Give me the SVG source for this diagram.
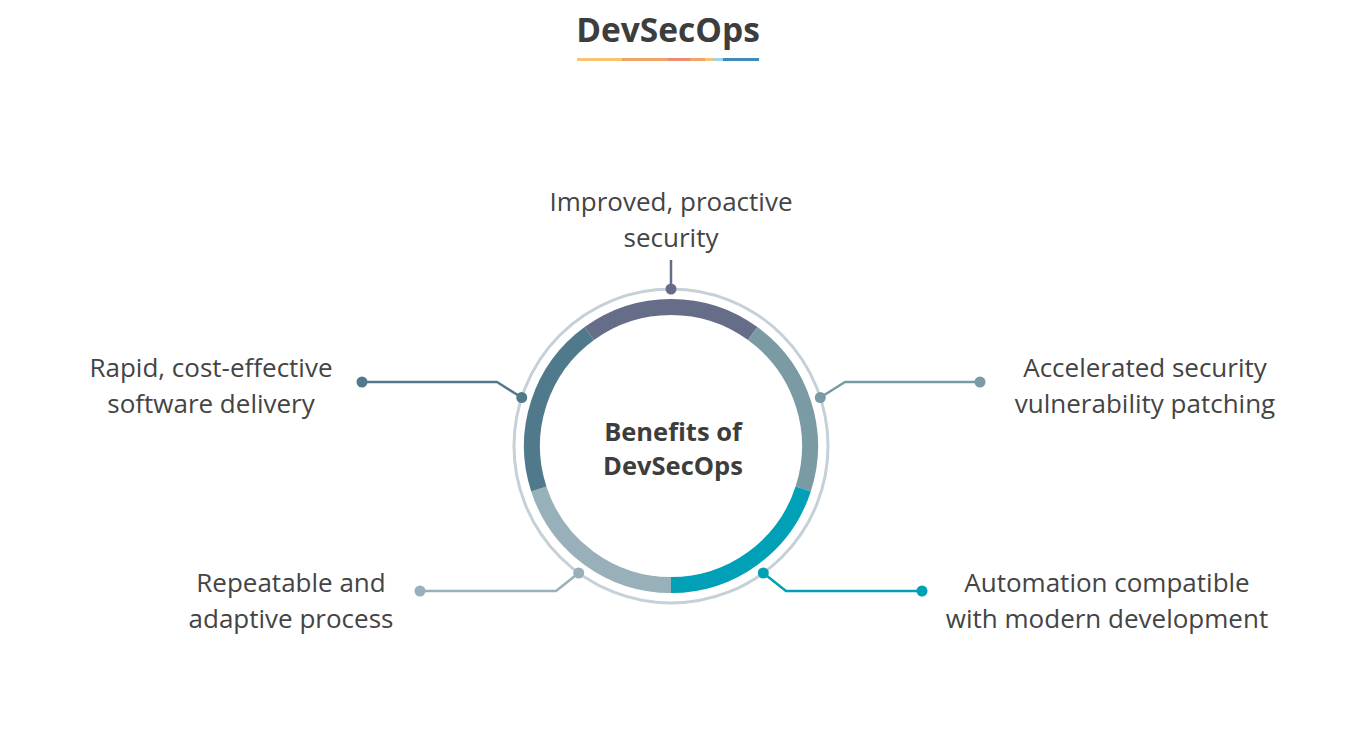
<svg xmlns="http://www.w3.org/2000/svg" width="1356" height="748" viewBox="0 0 1356 748">
<style>
text{font-family:"Open Sans","Noto Sans","Liberation Sans",sans-serif;fill:#444;}
.lbl{font-size:26px;text-anchor:middle;}
.ttl{font-size:33.5px;font-weight:bold;text-anchor:middle;fill:#3d3d3d;}
.ctr{font-size:25.5px;font-weight:bold;text-anchor:middle;fill:#3d3d3d;}
.seg{fill:none;stroke-width:16;}
.ln{fill:none;stroke-width:2.5;stroke-linejoin:round;}
</style>
<rect width="1356" height="748" fill="#fff"/>
<g id="title">
<text class="ttl" x="668" y="42">DevSecOps</text>
<rect x="577" y="58" width="45" height="3" fill="#f6c473"/>
<rect x="622" y="58" width="46" height="3" fill="#f0a466"/>
<rect x="668" y="58" width="22" height="3" fill="#ec8d75"/>
<rect x="690" y="58" width="15" height="3" fill="#f0a466"/>
<rect x="705" y="58" width="8" height="3" fill="#f6c473"/>
<rect x="713" y="58" width="10" height="3" fill="#9fd3e6"/>
<rect x="723" y="58" width="36" height="3" fill="#3f8bb9"/>
</g>
<g id="hub">
<circle cx="671" cy="446" r="157" fill="none" stroke="#c5d1d7" stroke-width="3"/>
<path class="seg" stroke="#666d88" d="M589.3 333.55 A139 139 0 0 1 752.7 333.55"/>
<path class="seg" stroke="#7a9ba4" d="M752.7 333.55 A139 139 0 0 1 803.2 488.95"/>
<path class="seg" stroke="#00a0b7" d="M803.2 488.95 A139 139 0 0 1 671 585"/>
<path class="seg" stroke="#98b0ba" d="M671 585 A139 139 0 0 1 538.8 488.95"/>
<path class="seg" stroke="#507a8b" d="M538.8 488.95 A139 139 0 0 1 589.3 333.55"/>
<text class="ctr" x="673" y="441">Benefits of</text>
<text class="ctr" x="673" y="475">DevSecOps</text>
</g>
<g id="connectors">
<path class="ln" stroke="#666d88" d="M671 289 V260"/>
<path class="ln" stroke="#507a8b" d="M521.7 397.5 L497 382 H362"/>
<path class="ln" stroke="#7a9ba4" d="M820.3 397.5 L845 382 H980"/>
<path class="ln" stroke="#98b0ba" d="M578.7 573 L556 591 H420"/>
<path class="ln" stroke="#00a0b7" d="M763.3 573 L786 591 H922"/>
<circle cx="671" cy="289" r="5.5" fill="#666d88"/>
<circle cx="521.7" cy="397.5" r="5.5" fill="#507a8b"/>
<circle cx="362" cy="382" r="5.5" fill="#507a8b"/>
<circle cx="820.3" cy="397.5" r="5.5" fill="#7a9ba4"/>
<circle cx="980" cy="382" r="5.5" fill="#7a9ba4"/>
<circle cx="578.7" cy="573" r="5.5" fill="#98b0ba"/>
<circle cx="420" cy="591" r="5.5" fill="#98b0ba"/>
<circle cx="763.3" cy="573" r="5.5" fill="#00a0b7"/>
<circle cx="922" cy="591" r="5.5" fill="#00a0b7"/>
</g>
<g id="n-top">
<text class="lbl" x="671" y="211">Improved, proactive</text>
<text class="lbl" x="671" y="247">security</text>
</g>
<g id="n-left">
<text class="lbl" x="211" y="377">Rapid, cost-effective</text>
<text class="lbl" x="211" y="413">software delivery</text>
</g>
<g id="n-right">
<text class="lbl" x="1145" y="377">Accelerated security</text>
<text class="lbl" x="1145" y="413">vulnerability patching</text>
</g>
<g id="n-lowleft">
<text class="lbl" x="291" y="592">Repeatable and</text>
<text class="lbl" x="291" y="628">adaptive process</text>
</g>
<g id="n-lowright">
<text class="lbl" x="1107" y="592">Automation compatible</text>
<text class="lbl" x="1107" y="628">with modern development</text>
</g>
</svg>
